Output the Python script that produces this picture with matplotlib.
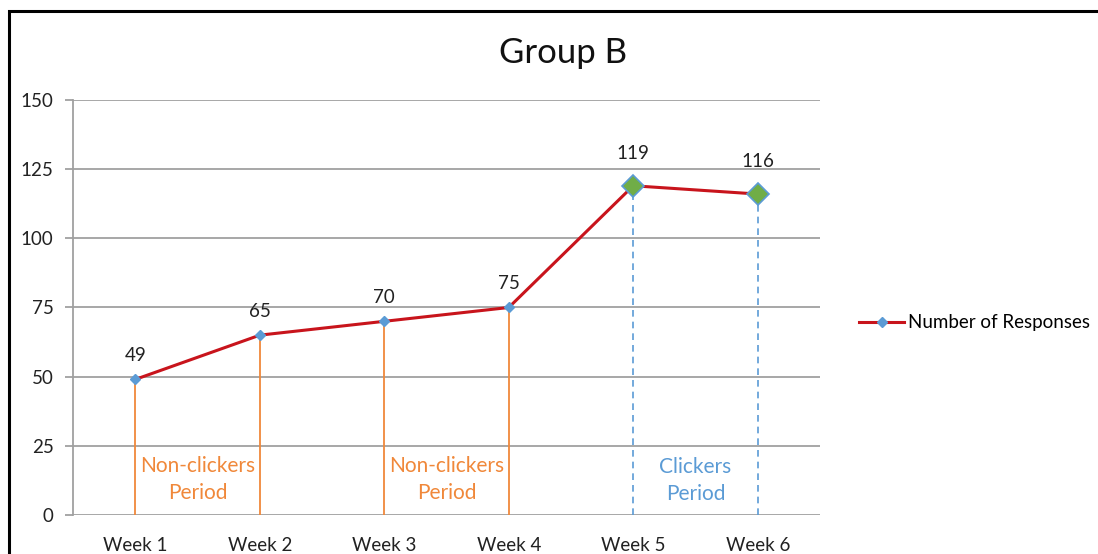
import matplotlib.pyplot as plt
from matplotlib.patches import Rectangle
import numpy as np

plt.rcParams['font.family'] = ['Lato', 'DejaVu Sans']

# data
weeks = ['Week 1', 'Week 2', 'Week 3', 'Week 4', 'Week 5', 'Week 6']
responses = [49, 65, 70, 75, 119, 116]
yticks = [0, 25, 50, 75, 100, 125, 150]

fig = plt.figure(figsize=(10.98, 5.54), dpi=100)
ax = fig.add_axes([0.0665, 0.0704, 0.6803, 0.7491])

x = np.arange(len(weeks)) + 0.5
red = '#C8141C'
blue = '#5B9BD5'
orange = '#F0883A'
green = '#70AD47'

# drop lines
for i in range(len(weeks)):
    if i < 4:
        ax.plot([x[i], x[i]], [0, responses[i]], color=orange, lw=1.3, zorder=2)
    else:
        ax.plot([x[i], x[i]], [0, responses[i]], color=blue, lw=1.2, ls=(0, (4, 3)), zorder=2)

line, = ax.plot(x, responses, color=red, lw=2.2, marker='D', ms=5,
                mfc=blue, mec=blue, zorder=3, label='Number of Responses')
ax.plot(x[4:], responses[4:], ls='none', marker='D', ms=11, mfc=green,
        mec=blue, mew=1.2, zorder=4)

# data labels
for i, v in enumerate(responses):
    off = 11 if i < 4 else 17
    ax.annotate(str(v), (x[i], v), xytext=(0, off), textcoords='offset points',
                ha='center', va='bottom', fontsize=13.5, color='#222222')

# period labels
ax.text((x[0] + x[1]) / 2, 21.5, 'Non-clickers\nPeriod', ha='center', va='top',
        color=orange, fontsize=15, linespacing=1.45)
ax.text((x[2] + x[3]) / 2, 21.5, 'Non-clickers\nPeriod', ha='center', va='top',
        color=orange, fontsize=15, linespacing=1.45)
ax.text((x[4] + x[5]) / 2, 21, 'Clickers\nPeriod', ha='center', va='top',
        color=blue, fontsize=15, linespacing=1.45)

ax.set_xlim(0, 6)
ax.set_ylim(0, 150)
ax.set_xticks(x)
ax.set_xticklabels(weeks, fontsize=13.5, color='#222222')
ax.set_yticks(yticks)
ax.set_yticklabels([str(t) for t in yticks], fontsize=13.5, color='#222222')
ax.tick_params(axis='x', length=0, pad=16)
ax.tick_params(axis='y', length=6, color='#A0A0A0', width=1.3, pad=8)
ax.yaxis.grid(True, color='#A0A0A0', lw=1.3)
ax.set_axisbelow(True)
for s in ['top', 'right', 'bottom']:
    ax.spines[s].set_visible(False)
ax.spines['left'].set_color('#A0A0A0')
ax.spines['left'].set_linewidth(1.3)

fig.text(0.513, 0.905, 'Group B', ha='center', va='center', fontsize=25, color='#111111')

fig.legend(handles=[line], loc='center left', bbox_to_anchor=(0.767, 0.417),
           frameon=False, fontsize=13.5, handlelength=2.4, handletextpad=0.2)

# outer border
fig.patches.append(Rectangle((9 / 1098, -0.05), 1.2, 1 - 11 / 554 + 0.05,
                             transform=fig.transFigure, fill=False,
                             ec='black', lw=2.2))

fig.savefig('out.png', dpi=100)
